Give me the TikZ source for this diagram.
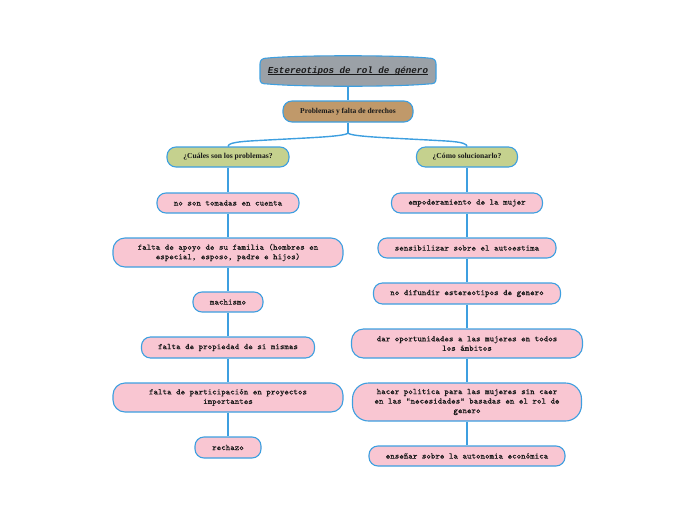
\documentclass[tikz,border=0pt]{standalone}
\usepackage{fontspec}
\setmainfont{Liberation Serif}
\newfontfamily\courfont{Liberation Mono}
\newfontfamily\leaffont[FakeBold=0.25]{Latin Modern Mono}
\definecolor{lineblue}{HTML}{3D9FE0}
\definecolor{pinkfill}{HTML}{F9C6D2}
\definecolor{greenfill}{HTML}{C5D18E}
\definecolor{brownfill}{HTML}{C0996A}
\definecolor{grayfill}{HTML}{9BA1A7}
\definecolor{txt}{HTML}{1A1A1A}
\tikzset{
  box/.style={draw=lineblue, line width=1.1pt, rounded corners=9pt, inner sep=1pt, align=center, text=txt},
  leaf/.style={box, fill=pinkfill, font=\fontsize{8.5}{9.5}\selectfont\leaffont},
  question/.style={box, fill=greenfill, font=\fontsize{7.6}{8}\selectfont\bfseries},
  conn/.style={draw=lineblue, line width=1.4pt},
}
\begin{document}
\begin{tikzpicture}[x=1pt,y=-1pt]
\useasboundingbox (0,0) rectangle (697,520);
% title
\path[fill=grayfill, draw=lineblue, line width=1.1pt]
  (268,58) .. controls (300,55) and (396,55) .. (428,58)
  .. controls (434,58) and (436,60) .. (436,64)
  -- (436,79) .. controls (436,83) and (434,84) .. (428,84)
  .. controls (396,87) and (300,87) .. (268,84)
  .. controls (262,84) and (260,83) .. (260,79)
  -- (260,64) .. controls (260,60) and (262,58) .. (268,58) -- cycle;
\node[text=txt, font=\fontsize{9.2}{10}\selectfont\courfont\bfseries\itshape, inner sep=0pt, anchor=base] (title) at (348,73) {Estereotipos de rol de género};
\draw[txt, line width=0.6pt] ([yshift=-1.6pt]title.base west) -- ([yshift=-1.6pt]title.base east);
\coordinate (titlebot) at (348,86);
\node[box, fill=brownfill, font=\fontsize{7.5}{8}\selectfont\bfseries, minimum width=130pt, minimum height=21pt] (sub) at (348,111.5) {Problemas y falta de derechos};

\node[question, minimum width=122pt, minimum height=20pt] (q1) at (228,157) {¿Cuáles son los problemas?};
\node[question, minimum width=101pt, minimum height=20pt] (q2) at (467,157) {¿Cómo solucionarlo?};

% left column
\node[leaf, minimum width=142pt, minimum height=20pt] (l1) at (228,203) {no son tomadas en cuenta};
\node[leaf, minimum width=230pt, minimum height=29pt, rounded corners=12pt] (l2) at (228,252.5) {falta de apoyo de su familia (hombres en\\especial, esposo, padre e hijos)};
\node[leaf, minimum width=70pt, minimum height=20pt] (l3) at (228,302) {machismo};
\node[leaf, minimum width=173pt, minimum height=21pt] (l4) at (228,347.5) {falta de propiedad de si mismas};
\node[leaf, minimum width=230pt, minimum height=29pt, rounded corners=12pt] (l5) at (228,397.5) {falta de participación en proyectos\\importantes};
\node[leaf, minimum width=66pt, minimum height=21pt] (l6) at (228,447.5) {rechazo};

% right column
\node[leaf, minimum width=151pt, minimum height=20pt] (r1) at (467,203) {empoderamiento de la mujer};
\node[leaf, minimum width=178pt, minimum height=20pt] (r2) at (467,248) {sensibilizar sobre el autoestima};
\node[leaf, minimum width=187pt, minimum height=21pt] (r3) at (467,293.5) {no difundir estereotipos de genero};
\node[leaf, minimum width=231pt, minimum height=29pt, rounded corners=12pt] (r4) at (467,343.5) {dar oportunidades a las mujeres en todos\\los ámbitos};
\node[leaf, minimum width=229pt, minimum height=38pt, rounded corners=16pt] (r5) at (467,402) {hacer politica para las mujeres sin caer\\en las "necesidades" basadas en el rol de\\genero};
\node[leaf, minimum width=196pt, minimum height=20pt] (r6) at (467,456) {enseñar sobre la autonomia económica};

% connectors
\draw[conn] (titlebot) -- (sub.north);
\coordinate (split) at (348,133);
\draw[conn] (sub.south) -- (split);
\draw[conn] (split) .. controls (345,137) and (300,138) .. (250,141) .. controls (233,142) and (228,144) .. (q1.north);
\draw[conn] (split) .. controls (351,137) and (396,138) .. (446,141) .. controls (463,142) and (467,144) .. (q2.north);
\draw[conn] (q1) -- (l1) -- (l2) -- (l3) -- (l4) -- (l5) -- (l6);
\draw[conn] (q2) -- (r1) -- (r2) -- (r3) -- (r4) -- (r5) -- (r6);
\end{tikzpicture}
\end{document}
